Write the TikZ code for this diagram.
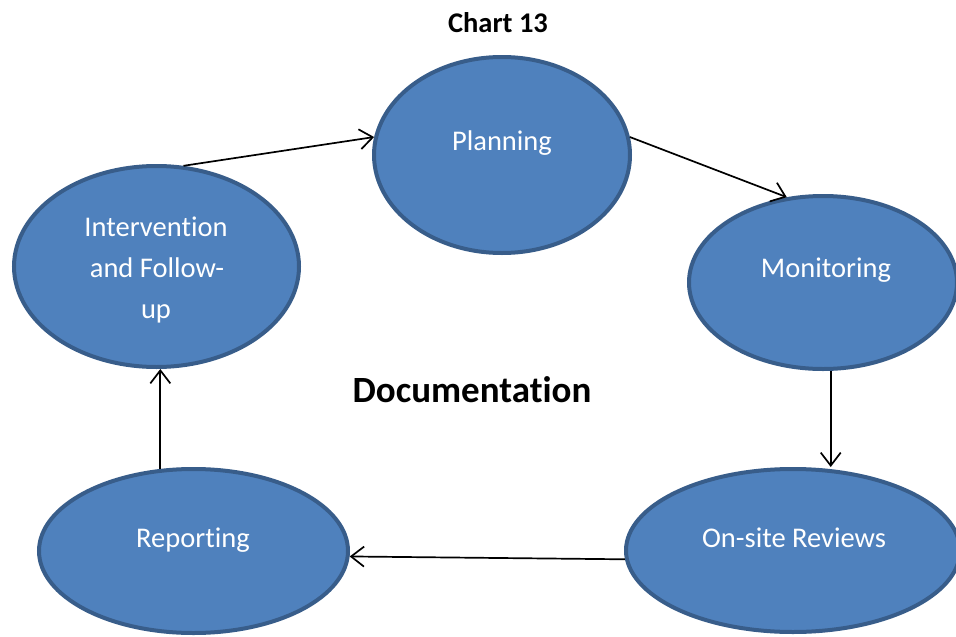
\documentclass[tikz,border=0pt]{standalone}
\usepackage{fontspec}
\setmainfont{Carlito}[Ligatures=NoCommon]
\usetikzlibrary{shapes.geometric,arrows.meta}
\definecolor{ellfill}{HTML}{4F81BD}
\definecolor{ellline}{HTML}{385D8A}
\tikzset{
  ell/.style={ellipse, fill=ellfill, draw=ellline, line width=4pt, inner sep=0pt},
  lbl/.style={text=white, font=\fontsize{28.5}{41}\selectfont, anchor=base, inner sep=0pt},
  arr/.style={draw=black, line width=1.7pt, -{Straight Barb[length=13pt, width=20pt, line width=1.7pt]}},
}
\begin{document}
\begin{tikzpicture}[x=1pt, y=-1pt]
\useasboundingbox (0,0) rectangle (956,637);
\fill[white] (0,0) rectangle (956,637);
% ellipses
\node[ell, minimum width=256pt, minimum height=196pt] (plan) at (502,155) {};
\node[ell, minimum width=268pt, minimum height=173pt] (mon) at (823,282.5) {};
\node[ell, minimum width=334pt, minimum height=163pt] (ons) at (793,550.5) {};
\node[ell, minimum width=309pt, minimum height=164pt] (rep) at (193.5,551) {};
\node[ell, minimum width=285pt, minimum height=201pt] (int) at (156.5,266.5) {};
% labels
\node[lbl] (tplan) at (502,150) {Planning};
\node[lbl] (tmon) at (826,277) {Monitoring};
\node[lbl] (tons) at (794,547) {On-site Reviews};
\node[lbl] (trep) at (193,547) {Reporting};
\node[lbl] (tint1) at (156,236) {Intervention};
\node[lbl] (tint2) at (157,277) {and Follow-};
\node[lbl] (tint3) at (156,318) {up};
\node[anchor=base, inner sep=0pt, font=\fontsize{28.5}{34}\selectfont\bfseries] (title) at (498,32) {Chart 13};
\node[anchor=base, inner sep=0pt, font=\fontsize{37}{44}\selectfont\bfseries] (doc) at (472,402) {Documentation};
% connectors
\draw[arr] (int.75) -- (plan.172);
\draw[arr] (plan.8) -- (mon.113);
\draw[arr] (mon.-85) -- (ons.north -| mon.-85);
\draw[arr] (ons.183) -- (rep.-2);
\draw[arr] (rep.112) -- (rep.112 |- int.south);
\end{tikzpicture}
\end{document}
